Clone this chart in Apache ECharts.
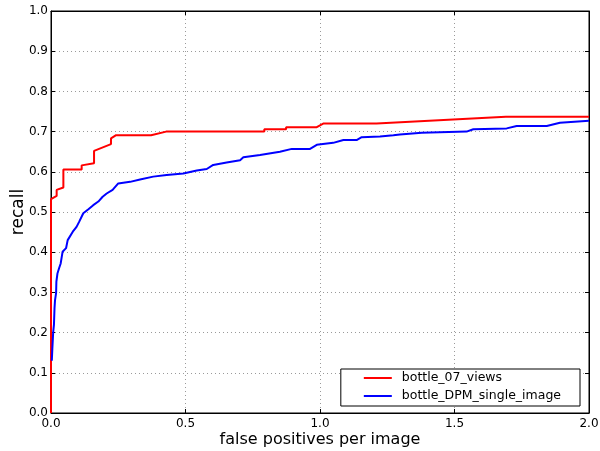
<!DOCTYPE html>
<html>
<head>
<meta charset="utf-8">
<script src="https://cdn.jsdelivr.net/npm/echarts@6/dist/echarts.min.js"></script>
<style>
  html, body { margin: 0; padding: 0; background: #fff; }
  #container { width: 600px; height: 451px; }
</style>
</head>
<body>
<div id="container"></div>
<script>
// curve data
var seriesNames = ['bottle_07_views', 'bottle_DPM_single_image'];

var viewsFppi = [0, 0, 0.021, 0.021, 0.046, 0.046, 0.114, 0.114, 0.16, 0.16, 0.223, 0.223, 0.242, 0.372, 0.428,
    0.793, 0.793, 0.874, 0.874, 0.988, 1.012, 1.21, 1.691, 2.0];
var viewsRecall = [0, 0.532, 0.540, 0.555, 0.561, 0.606, 0.606, 0.616, 0.621, 0.652, 0.669, 0.683, 0.691, 0.691, 0.700,
    0.700, 0.706, 0.706, 0.711, 0.711, 0.720, 0.720, 0.737, 0.737];

var dpmFppi = [0.003, 0.005, 0.008, 0.011, 0.013, 0.015, 0.019, 0.02, 0.024, 0.03, 0.036, 0.042, 0.043, 0.056, 0.062,
    0.081, 0.095, 0.105, 0.12, 0.139, 0.157, 0.176, 0.192, 0.207, 0.229, 0.25, 0.294, 0.331, 0.38, 0.43,
    0.492, 0.542, 0.579, 0.603, 0.653, 0.703, 0.715, 0.777, 0.851, 0.895, 0.963, 0.988, 1.049, 1.087,
    1.136, 1.155, 1.223, 1.273, 1.297, 1.378, 1.545, 1.57, 1.694, 1.731, 1.843, 1.892, 2.0];
var dpmRecall = [0.13, 0.16, 0.2, 0.22, 0.26, 0.281, 0.299, 0.327, 0.347, 0.36, 0.372, 0.375, 0.401, 0.41, 0.43,
    0.451, 0.463, 0.476, 0.497, 0.507, 0.517, 0.526, 0.538, 0.546, 0.555, 0.571, 0.575, 0.581, 0.588, 0.592,
    0.596, 0.603, 0.607, 0.617, 0.623, 0.629, 0.636, 0.642, 0.650, 0.657, 0.657, 0.667, 0.672, 0.679,
    0.679, 0.686, 0.688, 0.691, 0.693, 0.697, 0.700, 0.706, 0.708, 0.714, 0.714, 0.722, 0.727];

function pairs(xs, ys) {
    var out = [];
    for (var i = 0; i < xs.length; i++) {
        out.push([xs[i], ys[i]]);
    }
    return out;
}

var font = 'DejaVu Sans';
var myChart = echarts.init(document.getElementById('container'));

var gridLine = {
    show: true,
    lineStyle: { color: '#9a9a9a', type: [1, 3], width: 1 }
};
var tick = { show: true, inside: true, length: 4, lineStyle: { color: '#000' } };
var blackLine = { show: true, onZero: false, lineStyle: { color: '#000' } };

function fmt(v) { return v.toFixed(1); }

var options = {
    animation: false,
    grid: {
        left: 51, right: 11, top: 11, bottom: 38,
        containLabel: false, outerBoundsMode: 'none',
        show: true, borderColor: '#000', borderWidth: 1
    },
    legend: {
        orient: 'vertical',
        right: 20,
        bottom: 45,
        padding: [2, 19, 3, 23],
        itemGap: 4,
        itemWidth: 28,
        itemHeight: 2,
        borderColor: '#000',
        borderWidth: 1,
        borderRadius: 0,
        backgroundColor: '#fff',
        icon: 'rect',
        textStyle: { fontFamily: font, fontSize: 12.5, lineHeight: 14, color: '#000', padding: [0, 0, 0, 5] },
        data: seriesNames
    },
    xAxis: [{
        type: 'value',
        min: 0,
        max: 2,
        interval: 0.5,
        name: 'false positives per image',
        nameLocation: 'middle',
        nameGap: 19,
        nameMoveOverlap: false,
        nameTextStyle: { fontFamily: font, fontSize: 16, color: '#000' },
        axisLine: blackLine,
        axisTick: tick,
        axisLabel: { fontFamily: font, fontSize: 12, color: '#000', margin: 5, formatter: fmt },
        splitLine: gridLine
    }, {
        type: 'value',
        position: 'top',
        min: 0,
        max: 2,
        interval: 0.5,
        axisLine: blackLine,
        axisTick: tick,
        axisLabel: { show: false },
        splitLine: { show: false }
    }],
    yAxis: [{
        type: 'value',
        min: 0,
        max: 1,
        interval: 0.1,
        name: 'recall',
        nameLocation: 'middle',
        nameGap: 24,
        nameMoveOverlap: false,
        nameTextStyle: { fontFamily: font, fontSize: 17, color: '#000' },
        axisLine: blackLine,
        axisTick: tick,
        axisLabel: { fontFamily: font, fontSize: 12, color: '#000', margin: 3, formatter: fmt },
        splitLine: gridLine
    }, {
        type: 'value',
        position: 'right',
        min: 0,
        max: 1,
        interval: 0.1,
        axisLine: blackLine,
        axisTick: tick,
        axisLabel: { show: false },
        splitLine: { show: false }
    }],
    series: [
        {
            name: seriesNames[0],
            type: 'line',
            showSymbol: false,
            symbol: 'none',
            color: '#ff0000',
            lineStyle: { width: 2, color: '#ff0000' },
            data: pairs(viewsFppi, viewsRecall)
        },
        {
            name: seriesNames[1],
            type: 'line',
            showSymbol: false,
            symbol: 'none',
            color: '#0000ff',
            lineStyle: { width: 2, color: '#0000ff' },
            data: pairs(dpmFppi, dpmRecall)
        }
    ]
};

myChart.setOption(options);
</script>
</body>
</html>
